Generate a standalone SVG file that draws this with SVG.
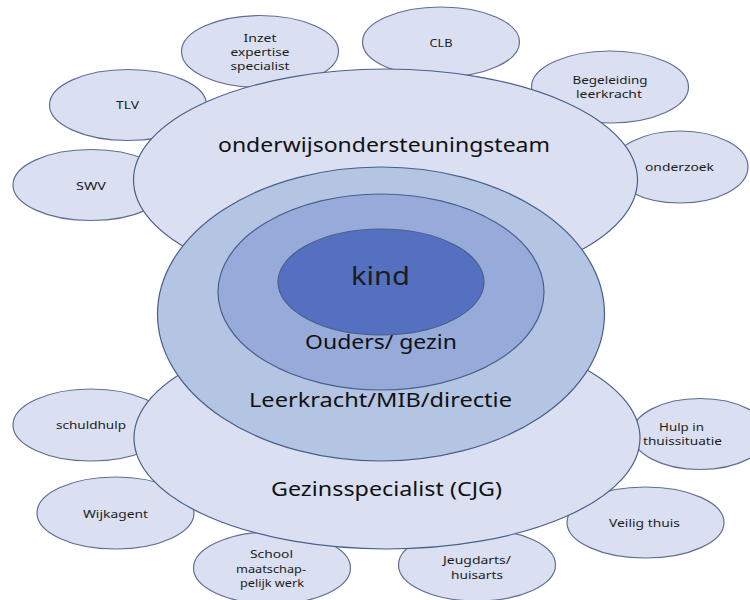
<svg xmlns="http://www.w3.org/2000/svg" width="750" height="600" viewBox="0 0 750 600">
<style>
.s{fill:#dae0f1;stroke:#5f6f92;stroke-width:1.2}
.m{fill:#dae0f1;stroke:#4a5f8c;stroke-width:1.2}
text{font-family:"Noto Sans","Open Sans",sans-serif;fill:#1c1c1c;text-anchor:middle}
.t{font-size:11.5px}
.l{font-size:19px;fill:#111}
</style>
<rect width="750" height="600" fill="#fff"/>
<g id="n-inzet"><ellipse class="s" cx="260" cy="51.500" rx="78.500" ry="36"/><text class="t" x="260" y="42" textLength="33" lengthAdjust="spacingAndGlyphs">Inzet</text><text class="t" x="260" y="56" textLength="59" lengthAdjust="spacingAndGlyphs">expertise</text><text class="t" x="260" y="70" textLength="59" lengthAdjust="spacingAndGlyphs">specialist</text></g>
<g id="n-clb"><ellipse class="s" cx="441" cy="42" rx="78.500" ry="35"/><text class="t" x="441" y="47" textLength="23" lengthAdjust="spacingAndGlyphs">CLB</text></g>
<g id="n-begeleiding"><ellipse class="s" cx="610" cy="87" rx="78.500" ry="36"/><text class="t" x="610" y="84" textLength="75" lengthAdjust="spacingAndGlyphs">Begeleiding</text><text class="t" x="609" y="98" textLength="66" lengthAdjust="spacingAndGlyphs">leerkracht</text></g>
<g id="n-onderzoek"><ellipse class="s" cx="680" cy="167" rx="68" ry="36"/><text class="t" x="679.500" y="171" textLength="69" lengthAdjust="spacingAndGlyphs">onderzoek</text></g>
<g id="n-tlv"><ellipse class="s" cx="128" cy="105" rx="78.500" ry="35.500"/><text class="t" x="127.500" y="109" textLength="23" lengthAdjust="spacingAndGlyphs">TLV</text></g>
<g id="n-swv"><ellipse class="s" cx="91" cy="185" rx="78" ry="35.500"/><text class="t" x="91" y="190" textLength="30" lengthAdjust="spacingAndGlyphs">SWV</text></g>
<g id="n-schuldhulp"><ellipse class="s" cx="91" cy="425" rx="78" ry="36"/><text class="t" x="91" y="429" textLength="70" lengthAdjust="spacingAndGlyphs">schuldhulp</text></g>
<g id="n-wijkagent"><ellipse class="s" cx="115.500" cy="513" rx="78.500" ry="36"/><text class="t" x="115.500" y="518" textLength="65" lengthAdjust="spacingAndGlyphs">Wijkagent</text></g>
<g id="n-school"><ellipse class="s" cx="272" cy="568" rx="78.500" ry="36"/><text class="t" x="271.500" y="558" textLength="43" lengthAdjust="spacingAndGlyphs">School</text><text class="t" x="271" y="573" textLength="70" lengthAdjust="spacingAndGlyphs">maatschap-</text><text class="t" x="272" y="587" textLength="64" lengthAdjust="spacingAndGlyphs">pelijk werk</text></g>
<g id="n-jeugdarts"><ellipse class="s" cx="477" cy="565" rx="78.500" ry="36"/><text class="t" x="477" y="564" textLength="68" lengthAdjust="spacingAndGlyphs">Jeugdarts/</text><text class="t" x="477" y="579" textLength="52" lengthAdjust="spacingAndGlyphs">huisarts</text></g>
<g id="n-veilig"><ellipse class="s" cx="645.500" cy="522.500" rx="78.500" ry="35.500"/><text class="t" x="644.500" y="527" textLength="71" lengthAdjust="spacingAndGlyphs">Veilig thuis</text></g>
<g id="n-hulp"><ellipse class="s" cx="700" cy="434" rx="68" ry="35.500"/><text class="t" x="681.500" y="431" textLength="45" lengthAdjust="spacingAndGlyphs">Hulp in</text><text class="t" x="682.500" y="445" textLength="79" lengthAdjust="spacingAndGlyphs">thuissituatie</text></g>
<g id="n-ond"><ellipse class="m" cx="385.500" cy="180" rx="252" ry="111"/><text class="l" x="384" y="152" textLength="332" lengthAdjust="spacingAndGlyphs">onderwijsondersteuningsteam</text></g>
<g id="n-gezin"><ellipse class="m" cx="387" cy="438" rx="253" ry="111"/><text class="l" x="386.500" y="496" textLength="231" lengthAdjust="spacingAndGlyphs">Gezinsspecialist (CJG)</text></g>
<g id="n-leer"><ellipse cx="381" cy="314" rx="223.500" ry="147" fill="#b4c5e4" stroke="#4a5f8c" stroke-width="1.200"/><text class="l" x="380.500" y="407" textLength="263" lengthAdjust="spacingAndGlyphs">Leerkracht/MIB/directie</text></g>
<g id="n-ouders"><ellipse cx="381" cy="292" rx="163" ry="98" fill="#97abda" stroke="#4a5f8c" stroke-width="1.200"/><text class="l" x="381" y="349" textLength="152" lengthAdjust="spacingAndGlyphs">Ouders/ gezin</text></g>
<g id="n-kind"><ellipse cx="381" cy="282" rx="103" ry="53" fill="#5570c0" stroke="#4a5f8c" stroke-width="1.200"/><text x="380.500" y="285" font-size="26" textLength="59" lengthAdjust="spacingAndGlyphs">kind</text></g>
</svg>
